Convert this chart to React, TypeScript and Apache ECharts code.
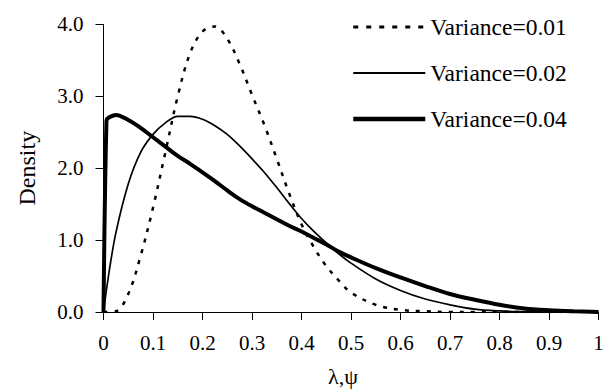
import React, { useEffect, useRef } from "react";
import * as echarts from "echarts";

const xTicks = [0, 0.1, 0.2, 0.3, 0.4, 0.5, 0.6, 0.7, 0.8, 0.9, 1];
const yTicks = [0, 1, 2, 3, 4];

const seriesNames = ["Variance=0.01", "Variance=0.02", "Variance=0.04"];

const x01 = [0, 0.025, 0.05, 0.075, 0.1, 0.125, 0.15, 0.175, 0.2, 0.225, 0.25, 0.275, 0.3, 0.325, 0.35, 0.375, 0.4, 0.425, 0.45, 0.475, 0.5, 0.55, 0.6, 0.65, 0.7, 0.75, 0.8, 0.85, 0.9, 0.95, 1];
const y01 = [0, 0.01, 0.25, 0.78, 1.45, 2.22, 3.0, 3.6, 3.9, 3.97, 3.8, 3.45, 3.02, 2.6, 2.13, 1.65, 1.22, 0.9, 0.64, 0.44, 0.27, 0.1, 0.03, 0.01, 0, 0, 0, 0, 0, 0, 0];

const x02 = [0, 0.01, 0.025, 0.05, 0.075, 0.1, 0.125, 0.15, 0.175, 0.2, 0.225, 0.25, 0.275, 0.3, 0.325, 0.35, 0.375, 0.4, 0.425, 0.45, 0.475, 0.5, 0.55, 0.6, 0.65, 0.7, 0.75, 0.8, 0.85, 0.9, 0.95, 1];
const y02 = [0, 0.5, 1.1, 1.78, 2.22, 2.47, 2.63, 2.72, 2.72, 2.68, 2.59, 2.47, 2.31, 2.13, 1.94, 1.73, 1.51, 1.3, 1.12, 0.96, 0.81, 0.68, 0.46, 0.3, 0.18, 0.1, 0.04, 0.015, 0.005, 0, 0, 0];

const x04 = [0, 0.006, 0.01, 0.025, 0.05, 0.075, 0.1, 0.125, 0.15, 0.175, 0.2, 0.225, 0.25, 0.275, 0.3, 0.325, 0.35, 0.375, 0.4, 0.425, 0.45, 0.475, 0.5, 0.55, 0.6, 0.65, 0.7, 0.75, 0.8, 0.85, 0.9, 0.95, 1];
const y04 = [0, 2.66, 2.7, 2.74, 2.67, 2.56, 2.43, 2.3, 2.17, 2.06, 1.94, 1.82, 1.69, 1.57, 1.47, 1.38, 1.29, 1.2, 1.12, 1.03, 0.94, 0.84, 0.76, 0.61, 0.48, 0.36, 0.25, 0.17, 0.1, 0.05, 0.025, 0.01, 0];

const pairs = (xs: number[], ys: number[]) => xs.map((x, i) => [x, ys[i]]);

const FONT = "'Liberation Serif', 'Times New Roman', serif";

const dottedStyle = { color: "#000", width: 2.5, type: [4, 7], cap: "butt" };
const thinStyle = { color: "#000", width: 1.7 };
const thickStyle = { color: "#000", width: 4 };

export default function App() {
  const ref = useRef<HTMLDivElement>(null);
  useEffect(() => {
    const chart = echarts.init(ref.current!, undefined, { renderer: "svg" });
    chart.setOption({
      animation: false,
      backgroundColor: "#ffffff",
      textStyle: { fontFamily: FONT, color: "#000" },
      grid: { left: 103.5, right: 8.5, top: 24.3, bottom: 78.7, containLabel: false },
      legend: {
        orient: "vertical",
        left: 346,
        top: 10,
        itemWidth: 72,
        itemHeight: 24,
        itemGap: 22,
        data: [
          { name: seriesNames[0], lineStyle: { color: "#000", width: 3, type: [5, 8], cap: "butt" } },
          { name: seriesNames[1], lineStyle: { color: "#000", width: 2 } },
          { name: seriesNames[2], lineStyle: { color: "#000", width: 4.5 } },
        ],
        itemStyle: { opacity: 0 },
        textStyle: { fontFamily: FONT, fontSize: 23.5, color: "#000" },
      },
      xAxis: {
        type: "value",
        min: xTicks[0],
        max: xTicks[xTicks.length - 1],
        interval: 0.1,
        name: "λ,ψ",
        nameLocation: "middle",
        nameGap: 53,
        nameTextStyle: { fontFamily: FONT, fontSize: 22, color: "#000", padding: [0, 16, 0, 0] },
        axisLine: { show: true, lineStyle: { color: "#000", width: 1 } },
        axisTick: { show: true, inside: false, length: 8, lineStyle: { color: "#000" } },
        axisLabel: { fontFamily: FONT, fontSize: 21, color: "#000", margin: 20, formatter: (v: number) => String(Math.round(v * 10) / 10) },
        splitLine: { show: false },
      },
      yAxis: {
        type: "value",
        min: yTicks[0],
        max: yTicks[yTicks.length - 1],
        interval: 1,
        name: "Density",
        nameLocation: "middle",
        nameGap: 65,
        nameTextStyle: { fontFamily: FONT, fontSize: 24, color: "#000" },
        axisLine: { show: true, lineStyle: { color: "#000", width: 1 } },
        axisTick: { show: true, inside: false, length: 8, lineStyle: { color: "#000" } },
        axisLabel: { fontFamily: FONT, fontSize: 21, color: "#000", margin: 20, formatter: (v: number) => v.toFixed(1) },
        splitLine: { show: false },
      },
      series: [
        {
          name: seriesNames[0],
          type: "line",
          symbol: "none",
          smooth: 0.35,
          data: pairs(x01, y01),
          lineStyle: dottedStyle,
          itemStyle: { color: "#000" },
        },
        {
          name: seriesNames[1],
          type: "line",
          symbol: "none",
          smooth: 0.35,
          data: pairs(x02, y02),
          lineStyle: thinStyle,
          itemStyle: { color: "#000" },
        },
        {
          name: seriesNames[2],
          type: "line",
          symbol: "none",
          smooth: 0.35,
          data: pairs(x04, y04),
          lineStyle: thickStyle,
          itemStyle: { color: "#000" },
        },
      ],
    });
    return () => chart.dispose();
  }, []);
  return (
    <div
      ref={ref}
      style={{ position: "fixed", left: 0, top: 0, width: 607, height: 392, background: "#fff" }}
    />
  );
}
